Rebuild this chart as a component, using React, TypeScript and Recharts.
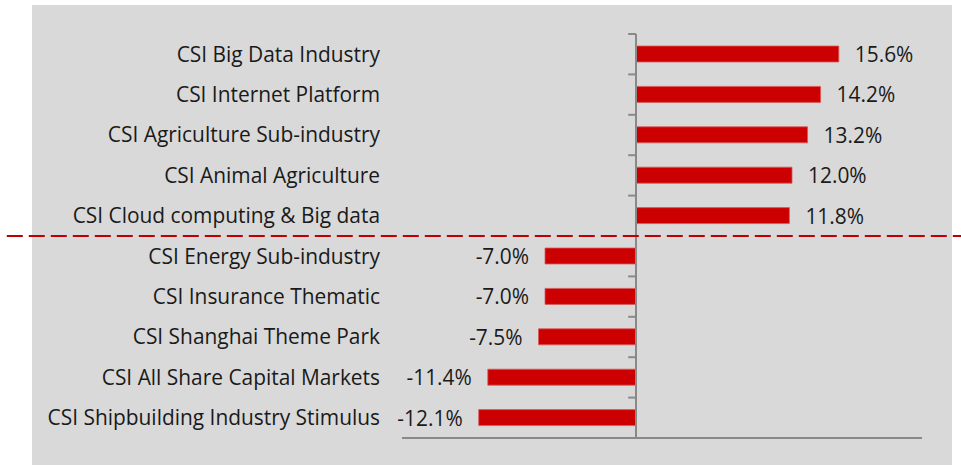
import React from "react";
import {
  BarChart,
  Bar,
  XAxis,
  YAxis,
  ReferenceLine,
  LabelList,
} from "recharts";

// index performance, top five gainers then bottom five
const categories = [
  "CSI Big Data Industry",
  "CSI Internet Platform",
  "CSI Agriculture Sub-industry",
  "CSI Animal Agriculture",
  "CSI Cloud computing & Big data",
  "CSI Energy Sub-industry",
  "CSI Insurance Thematic",
  "CSI Shanghai Theme Park",
  "CSI All Share Capital Markets",
  "CSI Shipbuilding Industry Stimulus",
];
const returns = [15.6, 14.2, 13.2, 12.0, 11.8, -7.0, -7.0, -7.5, -11.4, -12.1];

const xDomain = [-18, 22];
const splitAt = 4.5; // between gainers and losers

const data = categories.map((name, idx) => ({ idx, name, value: returns[idx] }));
const boundaries = categories.map((_, i) => i - 0.5).concat(categories.length - 0.5);

const FONT = "'Open Sans', sans-serif";
const FS = 20.9;
const AXIS = "#898989";

const ValueLabel = (props: any) => {
  const { x, y, width, height, value } = props;
  const left = Math.min(x, x + width);
  const right = Math.max(x, x + width);
  const pos = value >= 0;
  return (
    <text
      x={pos ? right + 16 : left - 16}
      y={y + height / 2}
      textAnchor={pos ? "start" : "end"}
      dominantBaseline="central"
      fontSize={FS}
      fontFamily={FONT}
      fill="#1a1a1a"
    >
      {value.toFixed(1) + "%"}
    </text>
  );
};

export default function App() {
  return (
    <div style={{ position: "absolute", left: 0, top: 0, width: 961, height: 465, background: "#fff" }}>
      <div style={{ position: "absolute", left: 32, top: 5, width: 920, height: 460, background: "#D9D9D9" }} />
      <div style={{ position: "absolute", left: 0, top: 0 }}>
        <BarChart
          width={961}
          height={465}
          data={data}
          layout="vertical"
          margin={{ top: 34, right: 39, bottom: 27, left: 0 }}
        >
          <XAxis type="number" domain={xDomain} allowDataOverflow hide />
          <YAxis
            type="number"
            dataKey="idx"
            domain={[-0.5, categories.length - 0.5]}
            ticks={data.map((d) => d.idx)}
            interval={0}
            width={402}
            axisLine={false}
            tickLine={false}
            tickSize={0}
            tickMargin={22}
            tickFormatter={(v: number) => categories[v]}
            tick={{ fontSize: FS, fontFamily: FONT, fill: "#1a1a1a" }}
          />
          <Bar dataKey="value" fill="#CC0000" stroke="#D85A5A" strokeWidth={0.8} barSize={16} isAnimationActive={false}>
            <LabelList dataKey="value" content={ValueLabel} />
          </Bar>
          <ReferenceLine x={0} stroke={AXIS} strokeWidth={2} />
          <ReferenceLine y={categories.length - 0.5} stroke={AXIS} strokeWidth={2} />
          {boundaries.map((b) => (
            <ReferenceLine
              key={b}
              segment={[
                { x: -0.6, y: b },
                { x: 0, y: b },
              ]}
              stroke={AXIS}
              strokeWidth={2}
            />
          ))}
          <ReferenceLine
            segment={[
              { x: -48.4, y: splitAt },
              { x: 25, y: splitAt },
            ]}
            ifOverflow="visible"
            stroke="#C00000"
            strokeWidth={2}
            strokeDasharray="16 6"
          />
        </BarChart>
      </div>
    </div>
  );
}
